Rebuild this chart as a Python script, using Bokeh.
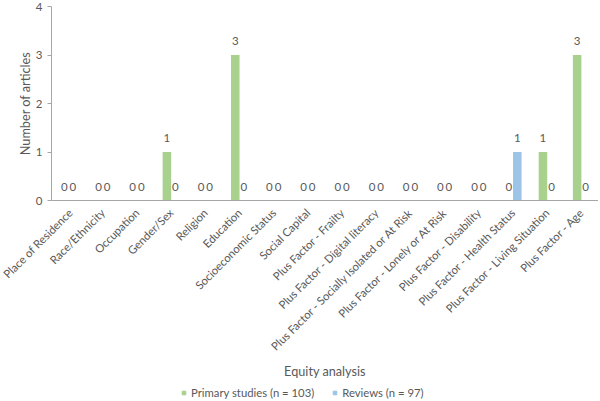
import math
from bokeh.plotting import figure
from bokeh.layouts import column
from bokeh.models import ColumnDataSource, Legend, LegendItem, FactorRange
from bokeh.transform import dodge
from bokeh.core.properties import value
from bokeh.embed import file_html
from bokeh.resources import INLINE

categories = ["Place of Residence", "Race/Ethnicity", "Occupation", "Gender/Sex", "Religion",
              "Education", "Socioeconomic Status", "Social Capital", "Plus Factor - Frailty",
              "Plus Factor - Digital literacy", "Plus Factor - Socially Isolated or At Risk",
              "Plus Factor - Lonely or At Risk", "Plus Factor - Disability",
              "Plus Factor - Health Status", "Plus Factor - Living Situation", "Plus Factor - Age"]
primary = [0, 0, 0, 1, 0, 3, 0, 0, 0, 0, 0, 0, 0, 0, 1, 3]
reviews = [0, 0, 0, 0, 0, 0, 0, 0, 0, 0, 0, 0, 0, 1, 0, 0]
series_names = ["Primary studies (n = 103)", "Reviews (n = 97)"]
y_ticks = [0, 1, 2, 3, 4]

GREEN = "#A9D18E"
BLUE = "#9DC3E6"
GREY_TXT = "#595959"
FONT = "Lato"

src = ColumnDataSource(dict(cat=categories, primary=primary, reviews=reviews,
                            ptxt=[str(v) for v in primary], rtxt=[str(v) for v in reviews]))

p = figure(width=598, height=384, output_backend="svg", toolbar_location=None,
           x_range=FactorRange(*categories, range_padding=0), y_range=(0, 4),
           min_border_left=51, min_border_right=0, min_border_top=6, min_border_bottom=184)
p.outline_line_color = None
p.xgrid.grid_line_color = None
p.ygrid.grid_line_color = None

r1 = p.vbar(x=dodge("cat", -0.125, range=p.x_range), top="primary", width=0.25,
            source=src, color=GREEN, line_color=None)
r2 = p.vbar(x=dodge("cat", 0.125, range=p.x_range), top="reviews", width=0.25,
            source=src, color=BLUE, line_color=None)

for col, txt, off in (("primary", "ptxt", -0.125), ("reviews", "rtxt", 0.125)):
    p.text(x=dodge("cat", off, range=p.x_range), y=col, text=txt, source=src,
           text_align="center", text_baseline="bottom", y_offset=-10,
           text_font=value(FONT), text_font_size="11.5px", text_color=GREY_TXT)

# axes
p.yaxis.ticker = y_ticks
p.yaxis.axis_label = "Number of articles"
p.xaxis.axis_label = "Equity analysis"
for ax in (p.xaxis, p.yaxis):
    ax.axis_line_color = "#A6A6A6"
    ax.axis_label_text_font = FONT
    ax.axis_label_text_font_style = "normal"
    ax.axis_label_text_font_size = "12.7px"
    ax.axis_label_text_color = GREY_TXT
    ax.major_label_text_font = FONT
    ax.major_label_text_color = GREY_TXT
    ax.minor_tick_line_color = None
p.yaxis.major_label_text_font_size = "11.5px"
p.yaxis.major_tick_line_color = "#A6A6A6"
p.yaxis.major_tick_out = 4
p.yaxis.major_tick_in = 0
p.yaxis.major_label_standoff = 5
p.yaxis.axis_label_standoff = 0
p.xaxis.major_tick_line_color = None
p.xaxis.major_label_orientation = math.pi / 4
p.xaxis.major_label_text_font_size = "11.3px"
p.xaxis.major_label_standoff = 4
p.xaxis.axis_label_standoff = 3

# legend strip below the chart (its frame is aligned with the chart frame)
lg = figure(width=598, height=16, output_backend="svg", toolbar_location=None,
            x_range=(0, 1), y_range=(0, 1), x_axis_type=None, y_axis_type=None,
            min_border=0, min_border_left=0, min_border_right=0,
            min_border_top=0, min_border_bottom=0)
lg.outline_line_color = None
lg.xgrid.grid_line_color = None
lg.ygrid.grid_line_color = None
d1 = lg.scatter(x=[-5], y=[-5], marker="square", color=GREEN)
d2 = lg.scatter(x=[-5], y=[-5], marker="square", color=BLUE)
legend = Legend(items=[LegendItem(label=series_names[0], renderers=[d1]),
                       LegendItem(label=series_names[1], renderers=[d2])],
                orientation="horizontal", location=(128, 1),
                label_text_font=FONT, label_text_font_size="11.3px", label_text_color=GREY_TXT,
                glyph_width=9, glyph_height=9, spacing=16, padding=2, margin=0,
                label_standoff=3, label_height=10, border_line_color=None,
                background_fill_alpha=0)
lg.add_layout(legend, "center")

layout = column(p, lg, spacing=0)
open("out.html", "w").write(file_html(layout, INLINE))
